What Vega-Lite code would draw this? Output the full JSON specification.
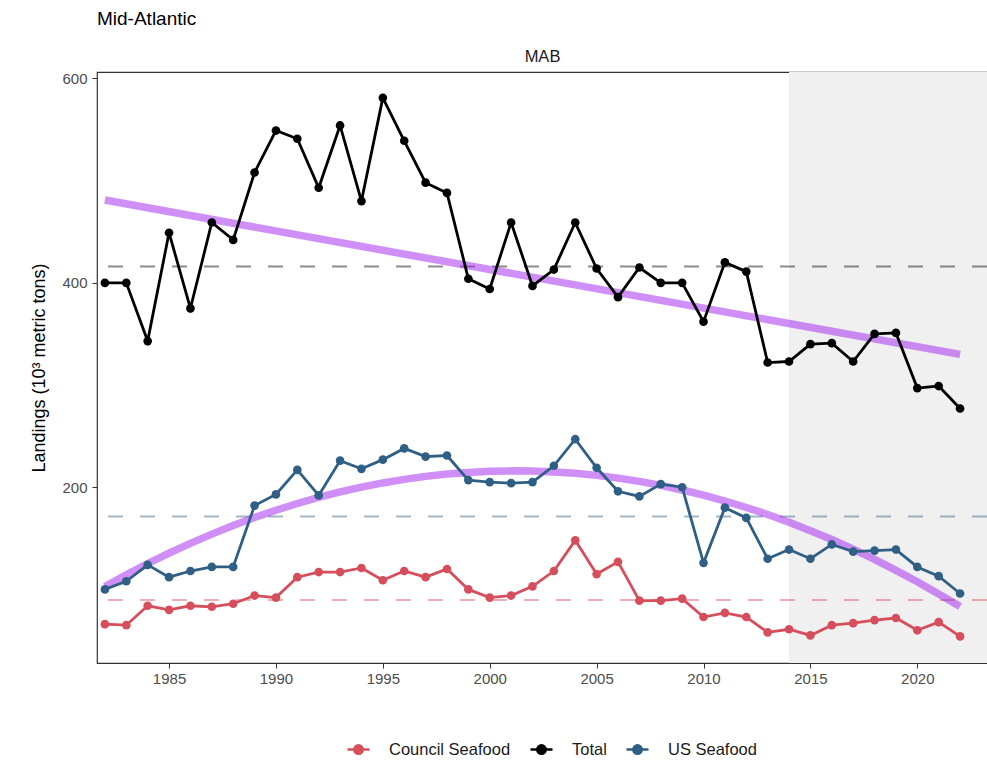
{
  "$schema": "https://vega.github.io/schema/vega-lite/v6.json",
  "autosize": {"type": "none"},
  "padding": {"left": 97, "top": 72, "right": 0, "bottom": 97},
  "width": 890,
  "height": 591,
  "background": "white",
  "title": {"text": "Mid-Atlantic", "anchor": "start", "frame": "group", "fontSize": 19, "fontWeight": "normal", "font": "Liberation Sans", "color": "black", "offset": 19},
  "data": {"values": [
    {"region": "MAB", "kind": "shade", "start": 2014, "end": 2023.26},
    {"region": "MAB", "kind": "obs", "series": "Total", "year": 1982, "value": 400},
    {"region": "MAB", "kind": "obs", "series": "Total", "year": 1983, "value": 400},
    {"region": "MAB", "kind": "obs", "series": "Total", "year": 1984, "value": 343},
    {"region": "MAB", "kind": "obs", "series": "Total", "year": 1985, "value": 449},
    {"region": "MAB", "kind": "obs", "series": "Total", "year": 1986, "value": 375},
    {"region": "MAB", "kind": "obs", "series": "Total", "year": 1987, "value": 459},
    {"region": "MAB", "kind": "obs", "series": "Total", "year": 1988, "value": 442},
    {"region": "MAB", "kind": "obs", "series": "Total", "year": 1989, "value": 508},
    {"region": "MAB", "kind": "obs", "series": "Total", "year": 1990, "value": 549},
    {"region": "MAB", "kind": "obs", "series": "Total", "year": 1991, "value": 541},
    {"region": "MAB", "kind": "obs", "series": "Total", "year": 1992, "value": 493},
    {"region": "MAB", "kind": "obs", "series": "Total", "year": 1993, "value": 554},
    {"region": "MAB", "kind": "obs", "series": "Total", "year": 1994, "value": 480},
    {"region": "MAB", "kind": "obs", "series": "Total", "year": 1995, "value": 581},
    {"region": "MAB", "kind": "obs", "series": "Total", "year": 1996, "value": 539},
    {"region": "MAB", "kind": "obs", "series": "Total", "year": 1997, "value": 498},
    {"region": "MAB", "kind": "obs", "series": "Total", "year": 1998, "value": 488},
    {"region": "MAB", "kind": "obs", "series": "Total", "year": 1999, "value": 404},
    {"region": "MAB", "kind": "obs", "series": "Total", "year": 2000, "value": 394},
    {"region": "MAB", "kind": "obs", "series": "Total", "year": 2001, "value": 459},
    {"region": "MAB", "kind": "obs", "series": "Total", "year": 2002, "value": 397},
    {"region": "MAB", "kind": "obs", "series": "Total", "year": 2003, "value": 413},
    {"region": "MAB", "kind": "obs", "series": "Total", "year": 2004, "value": 459},
    {"region": "MAB", "kind": "obs", "series": "Total", "year": 2005, "value": 414},
    {"region": "MAB", "kind": "obs", "series": "Total", "year": 2006, "value": 386},
    {"region": "MAB", "kind": "obs", "series": "Total", "year": 2007, "value": 415},
    {"region": "MAB", "kind": "obs", "series": "Total", "year": 2008, "value": 400},
    {"region": "MAB", "kind": "obs", "series": "Total", "year": 2009, "value": 400},
    {"region": "MAB", "kind": "obs", "series": "Total", "year": 2010, "value": 362},
    {"region": "MAB", "kind": "obs", "series": "Total", "year": 2011, "value": 420},
    {"region": "MAB", "kind": "obs", "series": "Total", "year": 2012, "value": 411},
    {"region": "MAB", "kind": "obs", "series": "Total", "year": 2013, "value": 322},
    {"region": "MAB", "kind": "obs", "series": "Total", "year": 2014, "value": 323},
    {"region": "MAB", "kind": "obs", "series": "Total", "year": 2015, "value": 340},
    {"region": "MAB", "kind": "obs", "series": "Total", "year": 2016, "value": 341},
    {"region": "MAB", "kind": "obs", "series": "Total", "year": 2017, "value": 323},
    {"region": "MAB", "kind": "obs", "series": "Total", "year": 2018, "value": 350},
    {"region": "MAB", "kind": "obs", "series": "Total", "year": 2019, "value": 351},
    {"region": "MAB", "kind": "obs", "series": "Total", "year": 2020, "value": 297},
    {"region": "MAB", "kind": "obs", "series": "Total", "year": 2021, "value": 299},
    {"region": "MAB", "kind": "obs", "series": "Total", "year": 2022, "value": 277},
    {"region": "MAB", "kind": "obs", "series": "US Seafood", "year": 1982, "value": 100},
    {"region": "MAB", "kind": "obs", "series": "US Seafood", "year": 1983, "value": 108},
    {"region": "MAB", "kind": "obs", "series": "US Seafood", "year": 1984, "value": 124},
    {"region": "MAB", "kind": "obs", "series": "US Seafood", "year": 1985, "value": 112},
    {"region": "MAB", "kind": "obs", "series": "US Seafood", "year": 1986, "value": 118},
    {"region": "MAB", "kind": "obs", "series": "US Seafood", "year": 1987, "value": 122},
    {"region": "MAB", "kind": "obs", "series": "US Seafood", "year": 1988, "value": 122},
    {"region": "MAB", "kind": "obs", "series": "US Seafood", "year": 1989, "value": 182},
    {"region": "MAB", "kind": "obs", "series": "US Seafood", "year": 1990, "value": 193},
    {"region": "MAB", "kind": "obs", "series": "US Seafood", "year": 1991, "value": 217},
    {"region": "MAB", "kind": "obs", "series": "US Seafood", "year": 1992, "value": 192},
    {"region": "MAB", "kind": "obs", "series": "US Seafood", "year": 1993, "value": 226},
    {"region": "MAB", "kind": "obs", "series": "US Seafood", "year": 1994, "value": 218},
    {"region": "MAB", "kind": "obs", "series": "US Seafood", "year": 1995, "value": 227},
    {"region": "MAB", "kind": "obs", "series": "US Seafood", "year": 1996, "value": 238},
    {"region": "MAB", "kind": "obs", "series": "US Seafood", "year": 1997, "value": 230},
    {"region": "MAB", "kind": "obs", "series": "US Seafood", "year": 1998, "value": 231},
    {"region": "MAB", "kind": "obs", "series": "US Seafood", "year": 1999, "value": 207},
    {"region": "MAB", "kind": "obs", "series": "US Seafood", "year": 2000, "value": 205},
    {"region": "MAB", "kind": "obs", "series": "US Seafood", "year": 2001, "value": 204},
    {"region": "MAB", "kind": "obs", "series": "US Seafood", "year": 2002, "value": 205},
    {"region": "MAB", "kind": "obs", "series": "US Seafood", "year": 2003, "value": 221},
    {"region": "MAB", "kind": "obs", "series": "US Seafood", "year": 2004, "value": 247},
    {"region": "MAB", "kind": "obs", "series": "US Seafood", "year": 2005, "value": 219},
    {"region": "MAB", "kind": "obs", "series": "US Seafood", "year": 2006, "value": 196},
    {"region": "MAB", "kind": "obs", "series": "US Seafood", "year": 2007, "value": 191},
    {"region": "MAB", "kind": "obs", "series": "US Seafood", "year": 2008, "value": 203},
    {"region": "MAB", "kind": "obs", "series": "US Seafood", "year": 2009, "value": 200},
    {"region": "MAB", "kind": "obs", "series": "US Seafood", "year": 2010, "value": 126},
    {"region": "MAB", "kind": "obs", "series": "US Seafood", "year": 2011, "value": 180},
    {"region": "MAB", "kind": "obs", "series": "US Seafood", "year": 2012, "value": 170},
    {"region": "MAB", "kind": "obs", "series": "US Seafood", "year": 2013, "value": 130},
    {"region": "MAB", "kind": "obs", "series": "US Seafood", "year": 2014, "value": 139},
    {"region": "MAB", "kind": "obs", "series": "US Seafood", "year": 2015, "value": 130},
    {"region": "MAB", "kind": "obs", "series": "US Seafood", "year": 2016, "value": 144},
    {"region": "MAB", "kind": "obs", "series": "US Seafood", "year": 2017, "value": 137},
    {"region": "MAB", "kind": "obs", "series": "US Seafood", "year": 2018, "value": 138},
    {"region": "MAB", "kind": "obs", "series": "US Seafood", "year": 2019, "value": 139},
    {"region": "MAB", "kind": "obs", "series": "US Seafood", "year": 2020, "value": 122},
    {"region": "MAB", "kind": "obs", "series": "US Seafood", "year": 2021, "value": 113},
    {"region": "MAB", "kind": "obs", "series": "US Seafood", "year": 2022, "value": 96},
    {"region": "MAB", "kind": "obs", "series": "Council Seafood", "year": 1982, "value": 66},
    {"region": "MAB", "kind": "obs", "series": "Council Seafood", "year": 1983, "value": 65},
    {"region": "MAB", "kind": "obs", "series": "Council Seafood", "year": 1984, "value": 84},
    {"region": "MAB", "kind": "obs", "series": "Council Seafood", "year": 1985, "value": 80},
    {"region": "MAB", "kind": "obs", "series": "Council Seafood", "year": 1986, "value": 84},
    {"region": "MAB", "kind": "obs", "series": "Council Seafood", "year": 1987, "value": 83},
    {"region": "MAB", "kind": "obs", "series": "Council Seafood", "year": 1988, "value": 86},
    {"region": "MAB", "kind": "obs", "series": "Council Seafood", "year": 1989, "value": 94},
    {"region": "MAB", "kind": "obs", "series": "Council Seafood", "year": 1990, "value": 92},
    {"region": "MAB", "kind": "obs", "series": "Council Seafood", "year": 1991, "value": 112},
    {"region": "MAB", "kind": "obs", "series": "Council Seafood", "year": 1992, "value": 117},
    {"region": "MAB", "kind": "obs", "series": "Council Seafood", "year": 1993, "value": 117},
    {"region": "MAB", "kind": "obs", "series": "Council Seafood", "year": 1994, "value": 121},
    {"region": "MAB", "kind": "obs", "series": "Council Seafood", "year": 1995, "value": 109},
    {"region": "MAB", "kind": "obs", "series": "Council Seafood", "year": 1996, "value": 118},
    {"region": "MAB", "kind": "obs", "series": "Council Seafood", "year": 1997, "value": 112},
    {"region": "MAB", "kind": "obs", "series": "Council Seafood", "year": 1998, "value": 120},
    {"region": "MAB", "kind": "obs", "series": "Council Seafood", "year": 1999, "value": 100},
    {"region": "MAB", "kind": "obs", "series": "Council Seafood", "year": 2000, "value": 92},
    {"region": "MAB", "kind": "obs", "series": "Council Seafood", "year": 2001, "value": 94},
    {"region": "MAB", "kind": "obs", "series": "Council Seafood", "year": 2002, "value": 103},
    {"region": "MAB", "kind": "obs", "series": "Council Seafood", "year": 2003, "value": 118},
    {"region": "MAB", "kind": "obs", "series": "Council Seafood", "year": 2004, "value": 148},
    {"region": "MAB", "kind": "obs", "series": "Council Seafood", "year": 2005, "value": 115},
    {"region": "MAB", "kind": "obs", "series": "Council Seafood", "year": 2006, "value": 127},
    {"region": "MAB", "kind": "obs", "series": "Council Seafood", "year": 2007, "value": 89},
    {"region": "MAB", "kind": "obs", "series": "Council Seafood", "year": 2008, "value": 89},
    {"region": "MAB", "kind": "obs", "series": "Council Seafood", "year": 2009, "value": 91},
    {"region": "MAB", "kind": "obs", "series": "Council Seafood", "year": 2010, "value": 73},
    {"region": "MAB", "kind": "obs", "series": "Council Seafood", "year": 2011, "value": 77},
    {"region": "MAB", "kind": "obs", "series": "Council Seafood", "year": 2012, "value": 73},
    {"region": "MAB", "kind": "obs", "series": "Council Seafood", "year": 2013, "value": 58},
    {"region": "MAB", "kind": "obs", "series": "Council Seafood", "year": 2014, "value": 61},
    {"region": "MAB", "kind": "obs", "series": "Council Seafood", "year": 2015, "value": 55},
    {"region": "MAB", "kind": "obs", "series": "Council Seafood", "year": 2016, "value": 65},
    {"region": "MAB", "kind": "obs", "series": "Council Seafood", "year": 2017, "value": 67},
    {"region": "MAB", "kind": "obs", "series": "Council Seafood", "year": 2018, "value": 70},
    {"region": "MAB", "kind": "obs", "series": "Council Seafood", "year": 2019, "value": 72},
    {"region": "MAB", "kind": "obs", "series": "Council Seafood", "year": 2020, "value": 60},
    {"region": "MAB", "kind": "obs", "series": "Council Seafood", "year": 2021, "value": 68},
    {"region": "MAB", "kind": "obs", "series": "Council Seafood", "year": 2022, "value": 54},
    {"region": "MAB", "kind": "trend", "series": "Total", "year": 1982, "value": 481},
    {"region": "MAB", "kind": "trend", "series": "Total", "year": 2022, "value": 330},
    {"region": "MAB", "kind": "trend", "series": "US Seafood", "year": 1982, "value": 102.8},
    {"region": "MAB", "kind": "trend", "series": "US Seafood", "year": 1983, "value": 114.3},
    {"region": "MAB", "kind": "trend", "series": "US Seafood", "year": 1984, "value": 125.2},
    {"region": "MAB", "kind": "trend", "series": "US Seafood", "year": 1985, "value": 135.4},
    {"region": "MAB", "kind": "trend", "series": "US Seafood", "year": 1986, "value": 145.1},
    {"region": "MAB", "kind": "trend", "series": "US Seafood", "year": 1987, "value": 154.1},
    {"region": "MAB", "kind": "trend", "series": "US Seafood", "year": 1988, "value": 162.5},
    {"region": "MAB", "kind": "trend", "series": "US Seafood", "year": 1989, "value": 170.3},
    {"region": "MAB", "kind": "trend", "series": "US Seafood", "year": 1990, "value": 177.5},
    {"region": "MAB", "kind": "trend", "series": "US Seafood", "year": 1991, "value": 184.1},
    {"region": "MAB", "kind": "trend", "series": "US Seafood", "year": 1992, "value": 190.0},
    {"region": "MAB", "kind": "trend", "series": "US Seafood", "year": 1993, "value": 195.4},
    {"region": "MAB", "kind": "trend", "series": "US Seafood", "year": 1994, "value": 200.1},
    {"region": "MAB", "kind": "trend", "series": "US Seafood", "year": 1995, "value": 204.2},
    {"region": "MAB", "kind": "trend", "series": "US Seafood", "year": 1996, "value": 207.7},
    {"region": "MAB", "kind": "trend", "series": "US Seafood", "year": 1997, "value": 210.6},
    {"region": "MAB", "kind": "trend", "series": "US Seafood", "year": 1998, "value": 212.9},
    {"region": "MAB", "kind": "trend", "series": "US Seafood", "year": 1999, "value": 214.5},
    {"region": "MAB", "kind": "trend", "series": "US Seafood", "year": 2000, "value": 215.6},
    {"region": "MAB", "kind": "trend", "series": "US Seafood", "year": 2001, "value": 216.0},
    {"region": "MAB", "kind": "trend", "series": "US Seafood", "year": 2002, "value": 215.8},
    {"region": "MAB", "kind": "trend", "series": "US Seafood", "year": 2003, "value": 215.0},
    {"region": "MAB", "kind": "trend", "series": "US Seafood", "year": 2004, "value": 213.6},
    {"region": "MAB", "kind": "trend", "series": "US Seafood", "year": 2005, "value": 211.6},
    {"region": "MAB", "kind": "trend", "series": "US Seafood", "year": 2006, "value": 208.9},
    {"region": "MAB", "kind": "trend", "series": "US Seafood", "year": 2007, "value": 205.7},
    {"region": "MAB", "kind": "trend", "series": "US Seafood", "year": 2008, "value": 201.8},
    {"region": "MAB", "kind": "trend", "series": "US Seafood", "year": 2009, "value": 197.3},
    {"region": "MAB", "kind": "trend", "series": "US Seafood", "year": 2010, "value": 192.2},
    {"region": "MAB", "kind": "trend", "series": "US Seafood", "year": 2011, "value": 186.5},
    {"region": "MAB", "kind": "trend", "series": "US Seafood", "year": 2012, "value": 180.2},
    {"region": "MAB", "kind": "trend", "series": "US Seafood", "year": 2013, "value": 173.3},
    {"region": "MAB", "kind": "trend", "series": "US Seafood", "year": 2014, "value": 165.7},
    {"region": "MAB", "kind": "trend", "series": "US Seafood", "year": 2015, "value": 157.5},
    {"region": "MAB", "kind": "trend", "series": "US Seafood", "year": 2016, "value": 148.8},
    {"region": "MAB", "kind": "trend", "series": "US Seafood", "year": 2017, "value": 139.4},
    {"region": "MAB", "kind": "trend", "series": "US Seafood", "year": 2018, "value": 129.4},
    {"region": "MAB", "kind": "trend", "series": "US Seafood", "year": 2019, "value": 118.7},
    {"region": "MAB", "kind": "trend", "series": "US Seafood", "year": 2020, "value": 107.5},
    {"region": "MAB", "kind": "trend", "series": "US Seafood", "year": 2021, "value": 95.6},
    {"region": "MAB", "kind": "trend", "series": "US Seafood", "year": 2022, "value": 83.2}
  ]},
  "layer": [
    {
      "transform": [{"filter": "datum.kind === 'shade'"}],
      "mark": {"type": "rect", "color": "#F0F0F0"},
      "encoding": {
        "x": {"field": "start", "type": "quantitative", "scale": {"domain": [1981.63, 2023.26], "nice": false, "zero": false},
          "axis": {"orient": "top", "title": "MAB", "labels": false, "ticks": false, "domain": false, "titleFontSize": 16.5, "titleColor": "#1A1A1A", "titlePadding": 8}},
        "x2": {"field": "end"}
      }
    },
    {
      "transform": [{"filter": "datum.kind === 'obs'"}],
      "mark": {"type": "rule", "strokeDash": [15, 17], "strokeWidth": 2, "strokeOpacity": 0.45},
      "encoding": {
        "y": {"aggregate": "mean", "field": "value", "type": "quantitative", "title": "Landings (10³ metric tons)", "scale": {"domain": [28, 606.3], "nice": false, "zero": false}},
        "color": {"field": "series", "type": "nominal"}
      }
    },
    {
      "transform": [{"filter": "datum.kind === 'trend'"}],
      "mark": {"type": "line", "color": "#A020F0", "opacity": 0.5, "strokeWidth": 7.5, "strokeCap": "butt"},
      "encoding": {
        "x": {"field": "year", "type": "quantitative", "axis": null},
        "y": {"field": "value", "type": "quantitative"},
        "detail": {"field": "series"}
      }
    },
    {
      "transform": [{"filter": "datum.kind === 'obs'"}],
      "mark": {"type": "line", "strokeWidth": 2.8},
      "encoding": {
        "x": {"field": "year", "type": "quantitative",
          "axis": {"title": null, "values": [1985, 1990, 1995, 2000, 2005, 2010, 2015, 2020], "format": "d"}},
        "y": {"field": "value", "type": "quantitative", "axis": {"values": [200, 400, 600], "labelPadding": 5, "titlePadding": 13}},
        "color": {"field": "series", "type": "nominal",
          "scale": {"domain": ["Council Seafood", "Total", "US Seafood"], "range": ["#D64E5C", "#000000", "#2F5F85"]},
          "legend": {"title": null, "orient": "none", "legendX": 249, "legendY": 665, "direction": "horizontal"}}
      }
    },
    {
      "transform": [{"filter": "datum.kind === 'obs'"}],
      "mark": {"type": "point", "filled": true, "size": 75, "opacity": 1},
      "encoding": {
        "x": {"field": "year", "type": "quantitative", "axis": null},
        "y": {"field": "value", "type": "quantitative"},
        "color": {"field": "series", "type": "nominal"}
      }
    }
  ],
  "resolve": {"axis": {"x": "independent"}},
  "config": {
    "font": "Liberation Sans",
    "view": {"stroke": "#333333", "strokeWidth": 1.2},
    "axis": {"grid": false, "domain": false, "labelFontSize": 15, "labelColor": "#4D4D4D", "tickColor": "#333333", "tickSize": 5, "labelPadding": 3, "titleFontWeight": "normal", "titleFontSize": 18, "titleColor": "black", "titlePadding": 10},
    "legend": {"labelFontSize": 16.5, "labelColor": "#1A1A1A",
      "symbolType": "M-1,0L1,0M-0.38,0A0.38,0.38,0,1,1,0.38,0A0.38,0.38,0,1,1,-0.38,0Z", "symbolSize": 484, "symbolStrokeWidth": 2.6, "columnPadding": 14, "labelOffset": 18}
  }
}
